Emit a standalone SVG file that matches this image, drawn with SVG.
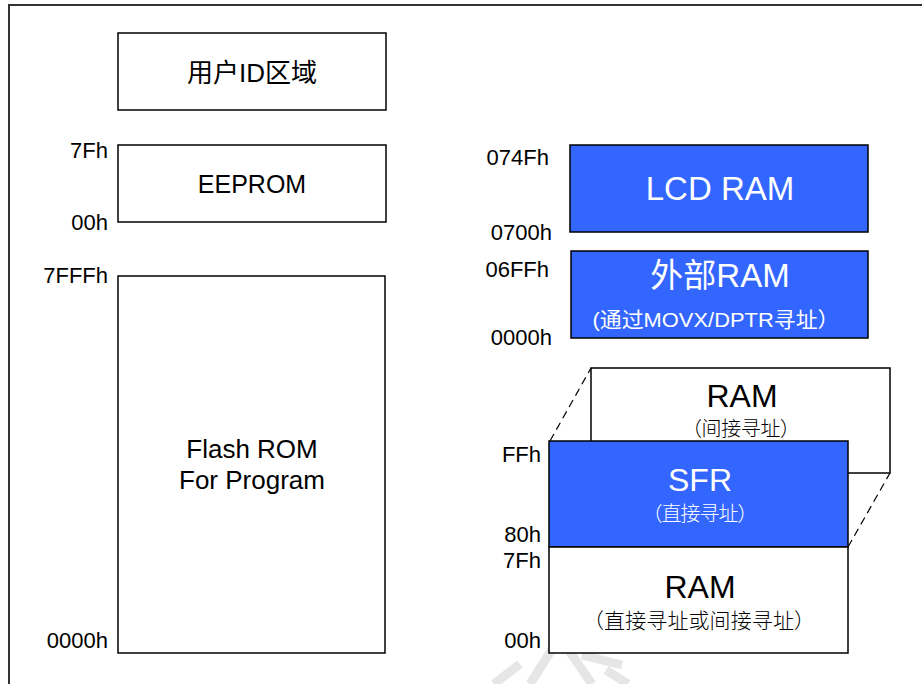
<svg xmlns="http://www.w3.org/2000/svg" width="922" height="684" viewBox="0 0 922 684">
<style>
  .box { fill: #ffffff; stroke: #000000; stroke-width: 1.5; }
  .blue { fill: #3366ff; stroke: #000000; stroke-width: 1.5; }
  .t { font-family: "Liberation Sans", "Noto Sans CJK SC", Arial, sans-serif; fill: #000000; }
  .cjk { font-weight: 300; }
  .w { fill: #ffffff; }
  .lbl { font-size: 22px; text-anchor: end; }
  .mid { text-anchor: middle; }
  .dash { stroke: #000000; stroke-width: 1.2; stroke-dasharray: 8 5; fill: none; }
  .wm { stroke: #e6e6e6; stroke-width: 9; fill: none; stroke-linecap: butt; }
</style>
<rect width="922" height="684" fill="#ffffff"/>
<g id="watermark">
  <line class="wm" x1="572" y1="618" x2="530" y2="684"/>
  <line class="wm" x1="520" y1="664" x2="494" y2="684"/>
  <line class="wm" x1="556" y1="632" x2="592" y2="684"/>
  <line class="wm" x1="582" y1="655" x2="622" y2="665"/>
  <line class="wm" x1="606" y1="670" x2="628" y2="684"/>
</g>
<g id="frame">
  <polyline points="9,684 9,5 922,5" fill="none" stroke="#333333" stroke-width="2"/>
</g>
<g id="user-id">
  <rect class="box" x="118" y="33" width="268" height="77"/>
  <text class="t mid" x="252" y="82" font-size="26">用户ID区域</text>
</g>
<g id="eeprom">
  <rect class="box" x="118" y="145" width="268" height="77"/>
  <text class="t mid" x="252" y="193" font-size="25">EEPROM</text>
  <text class="t lbl" x="108" y="158">7Fh</text>
  <text class="t lbl" x="108" y="230">00h</text>
</g>
<g id="flash">
  <rect class="box" x="118" y="276" width="267" height="377"/>
  <text class="t mid" x="252" y="458" font-size="26">Flash ROM</text>
  <text class="t mid" x="252" y="489" font-size="26">For Program</text>
  <text class="t lbl" x="108" y="283">7FFFh</text>
  <text class="t lbl" x="108" y="648">0000h</text>
</g>
<g id="lcd-ram">
  <rect class="blue" x="570" y="145" width="298" height="87"/>
  <text class="t w mid" x="720" y="200" font-size="33">LCD RAM</text>
  <text class="t lbl" x="549" y="165">074Fh</text>
  <text class="t lbl" x="552" y="240">0700h</text>
</g>
<g id="ext-ram">
  <rect class="blue" x="571" y="251" width="297" height="87"/>
  <text class="t w mid" x="720" y="287" font-size="33">外部RAM</text>
  <text class="t w mid" x="716" y="327" font-size="21" textLength="247" lengthAdjust="spacingAndGlyphs">(通过MOVX/DPTR寻址）</text>
  <text class="t lbl" x="549" y="277">06FFh</text>
  <text class="t lbl" x="552" y="345">0000h</text>
</g>
<g id="connectors">
  <line class="dash" x1="550" y1="441" x2="591" y2="368"/>
  <line class="dash" x1="848" y1="441" x2="890" y2="368"/>
  <line class="dash" x1="848" y1="547" x2="890" y2="473"/>
</g>
<g id="ram-indirect">
  <rect class="box" x="591" y="368" width="299" height="105"/>
  <text class="t mid" x="742" y="407" font-size="32">RAM</text>
  <text class="t cjk mid" x="741" y="436" font-size="20" textLength="118" lengthAdjust="spacing">（间接寻址）</text>
</g>
<g id="sfr">
  <rect class="blue" x="549" y="441" width="299" height="106"/>
  <text class="t w mid" x="700" y="491" font-size="32">SFR</text>
  <text class="t w cjk mid" x="700" y="521" font-size="20" textLength="115" lengthAdjust="spacing">（直接寻址）</text>
  <text class="t lbl" x="541" y="462">FFh</text>
  <text class="t lbl" x="541" y="542">80h</text>
</g>
<g id="ram-direct">
  <rect class="box" x="549" y="547" width="299" height="106"/>
  <text class="t mid" x="700" y="598" font-size="32">RAM</text>
  <text class="t cjk mid" x="699" y="628" font-size="21" textLength="232" lengthAdjust="spacing">（直接寻址或间接寻址）</text>
  <text class="t lbl" x="541" y="568">7Fh</text>
  <text class="t lbl" x="541" y="648">00h</text>
</g>
</svg>
